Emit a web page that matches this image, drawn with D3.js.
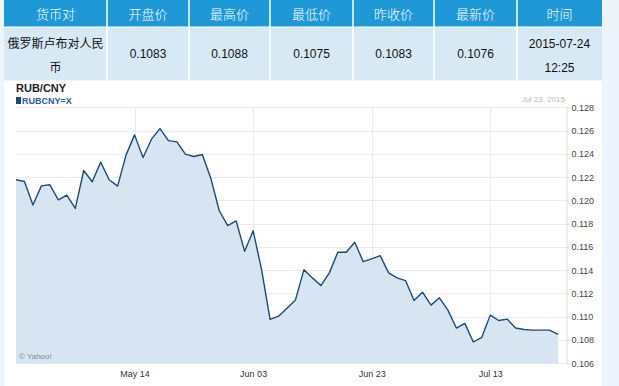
<!DOCTYPE html>
<html>
<head>
<meta charset="utf-8">
<script src="https://cdn.jsdelivr.net/npm/d3@7"></script>
<style>
  body { margin: 0; background: #eef4fb; }
  svg { display: block; }
</style>
</head>
<body>
<svg id="chart"></svg>
<script>
const W = 619, H = 386;

// table data
const headers = ['货币对', '开盘价', '最高价', '最低价', '昨收价', '最新价', '时间'];
const rowValues = [['俄罗斯卢布对人民', '币'], ['0.1083'], ['0.1088'], ['0.1075'], ['0.1083'], ['0.1076'], ['2015-07-24', '12:25']];
const colEdges = [4, 107, 189, 270, 353, 434, 517, 602];

// chart data: one value per trading day, Apr 24 2015 .. Jul 23 2015
const rates = [
  0.12177, 0.12162, 0.11960, 0.12125, 0.12134, 0.12005, 0.12046, 0.11931, 0.12257, 0.12160,
  0.12329, 0.12177, 0.12123, 0.12391, 0.12563, 0.12368, 0.12526, 0.12617, 0.12514, 0.12503,
  0.12397, 0.12377, 0.12394, 0.12191, 0.11911, 0.11783, 0.11823, 0.11562, 0.11740, 0.11405,
  0.10977, 0.11005, 0.11074, 0.11145, 0.11405, 0.11334, 0.11268, 0.11377, 0.11554, 0.11554,
  0.11640, 0.11474, 0.11497, 0.11525, 0.11377, 0.11334, 0.11311, 0.11140, 0.11211, 0.11100,
  0.11163, 0.11057, 0.10903, 0.10943, 0.10783, 0.10823, 0.11014, 0.10968, 0.10980, 0.10903,
  0.10891, 0.10885, 0.10885, 0.10885, 0.10848
];
const yTicks = [0.106, 0.108, 0.110, 0.112, 0.114, 0.116, 0.118, 0.120, 0.122, 0.124, 0.126, 0.128];
const xTickDates = ['2015-05-14', '2015-06-03', '2015-06-23', '2015-07-13'];

const parse = d3.timeParse('%Y-%m-%d');
const fmtKey = d3.timeFormat('%Y-%m-%d');
// trading days (weekdays) for the category axis
const days = d3.timeDay.range(parse('2015-04-24'), parse('2015-07-24'))
  .filter(d => d.getDay() !== 0 && d.getDay() !== 6)
  .map(fmtKey);
const series = days.map((d, i) => ({ day: d, v: rates[i] }));

const svg = d3.select('#chart').attr('width', W).attr('height', H);

// ---- table ----
const table = svg.append('g');
table.append('rect').attr('x', 4).attr('y', 0).attr('width', 598).attr('height', 27).attr('fill', '#1e98d6');
table.append('rect').attr('x', 4).attr('y', 27).attr('width', 598).attr('height', 53).attr('fill', '#d8e9f6');

headers.forEach((h, i) => {
  const x0 = colEdges[i], x1 = colEdges[i + 1];
  if (i > 0) {
    table.append('line').attr('x1', x0).attr('x2', x0).attr('y1', 0).attr('y2', 80)
      .attr('stroke', '#ffffff').attr('stroke-width', 1.5);
  }
  table.append('text')
    .attr('x', (x0 + x1) / 2).attr('y', 19)
    .attr('text-anchor', 'middle')
    .attr('font-family', '"Noto Sans CJK SC", sans-serif')
    .attr('font-weight', 300)
    .attr('font-size', 13).attr('fill', '#ffffff')
    .text(h);
  const lines = rowValues[i];
  lines.forEach((t, j) => {
    const y = lines.length === 1 ? 58 : 48 + j * 24;
    table.append('text')
      .attr('x', (x0 + x1) / 2).attr('y', y)
      .attr('text-anchor', 'middle')
      .attr('font-family', /[\u4e00-\u9fff]/.test(t) ? '"Noto Sans CJK SC", sans-serif' : '"Liberation Sans", Arial, sans-serif')
      .attr('font-size', 12).attr('fill', '#111')
      .text(t);
  });
});
table.append('line').attr('x1', 4).attr('x2', 602).attr('y1', 27).attr('y2', 27)
  .attr('stroke', '#ffffff').attr('stroke-width', 1);

// ---- chart panel ----
svg.append('rect').attr('x', 4).attr('y', 81).attr('width', 598).attr('height', 305).attr('fill', '#ffffff');

const plot = { left: 16, right: 566.5, top: 107.3, bottom: 363.3 };
const x = d3.scalePoint().domain(days).range([16, 558]);
const y = d3.scaleLinear().domain([0.106, 0.128]).range([plot.bottom, plot.top]);

const g = svg.append('g').attr('font-family', '"Liberation Sans", Arial, sans-serif');

// gridlines
g.append('g').selectAll('line').data(yTicks).join('line')
  .attr('x1', plot.left).attr('x2', plot.right)
  .attr('y1', d => Math.round(y(d)) + 0.5).attr('y2', d => Math.round(y(d)) + 0.5)
  .attr('stroke', '#ebebeb');
g.append('g').selectAll('line').data(xTickDates).join('line')
  .attr('x1', d => Math.round(x(d)) + 0.5).attr('x2', d => Math.round(x(d)) + 0.5)
  .attr('y1', plot.top).attr('y2', plot.bottom)
  .attr('stroke', '#ebebeb');

// area + line
const area = d3.area().x(d => x(d.day)).y0(plot.bottom).y1(d => y(d.v));
const line = d3.line().x(d => x(d.day)).y(d => y(d.v));
g.append('path').datum(series).attr('d', area).attr('fill', '#d6e5f1');
g.append('path').datum(series).attr('d', line)
  .attr('fill', 'none').attr('stroke', '#1f4a78').attr('stroke-width', 1.4).attr('stroke-linejoin', 'round');

// right axis
const yAxis = g.append('g').attr('transform', `translate(${plot.right},0)`)
  .call(d3.axisRight(y).tickValues(yTicks).tickFormat(d3.format('.3f')).tickSize(3).tickPadding(2));
yAxis.select('.domain').attr('stroke', '#dcdcdc').attr('d', `M0.5,${plot.top}V${plot.bottom}`);
yAxis.selectAll('.tick line').attr('stroke', '#dcdcdc');
yAxis.selectAll('.tick text').attr('font-size', 9).attr('fill', '#444').attr('font-family', '"Liberation Sans", Arial, sans-serif');

// bottom axis labels
const xAxis = g.append('g').attr('transform', `translate(0,${plot.bottom})`)
  .call(d3.axisBottom(x).tickValues(xTickDates).tickFormat(d => d3.timeFormat('%b %d')(parse(d))).tickSize(0).tickPadding(7));
xAxis.select('.domain').remove();
xAxis.selectAll('.tick text').attr('font-size', 9).attr('fill', '#333').attr('font-family', '"Liberation Sans", Arial, sans-serif');

// titles
g.append('text').attr('x', 16).attr('y', 92).attr('font-size', 11).attr('font-weight', 'bold').attr('fill', '#222').text('RUB/CNY');
g.append('rect').attr('x', 16).attr('y', 97).attr('width', 5).attr('height', 7).attr('fill', '#1f4a78');
g.append('text').attr('x', 22).attr('y', 104).attr('font-size', 9).attr('font-weight', 'bold').attr('fill', '#2a5d96').text('RUBCNY=X');
g.append('text').attr('x', 565).attr('y', 102).attr('text-anchor', 'end').attr('font-size', 8).attr('fill', '#bbb').text('Jul 23, 2015');
g.append('text').attr('x', 19).attr('y', 359).attr('font-size', 8).attr('fill', '#888').text('© Yahoo!');
</script>
</body>
</html>
